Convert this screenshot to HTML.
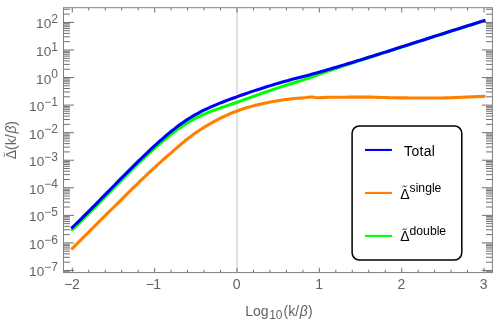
<!DOCTYPE html>
<html><head><meta charset="utf-8"><title>plot</title>
<style>html,body{margin:0;padding:0;background:#fff;}body{width:498px;height:324px;overflow:hidden;}svg{display:block;}text{font-family:"Liberation Sans",sans-serif;}svg{will-change:transform;}</style></head><body>
<svg width="498" height="324" viewBox="0 0 498 324">
<rect x="0" y="0" width="498" height="324" fill="#ffffff"/>
<line x1="237.00" y1="7.7" x2="237.00" y2="272.55" stroke="#cfcfcf" stroke-width="1.3"/>
<polyline points="72.4,229.67 75.4,226.79 78.4,223.87 81.4,220.92 84.4,217.95 87.4,214.95 90.4,211.94 93.4,208.90 96.4,205.86 99.4,202.80 102.4,199.73 105.4,196.66 108.4,193.58 111.4,190.51 114.4,187.43 117.4,184.37 120.4,181.31 123.4,178.27 126.4,175.24 129.4,172.23 132.4,169.24 135.4,166.27 138.4,163.33 141.4,160.45 144.4,157.64 147.4,154.86 150.4,152.10 153.4,149.38 156.4,146.70 159.4,144.07 162.4,141.50 165.4,138.98 168.4,136.53 171.4,134.13 174.4,131.81 177.4,129.57 180.4,127.43 183.4,125.40 186.4,123.47 189.4,121.65 192.4,119.95 195.4,118.34 198.4,116.83 201.4,115.41 204.4,114.09 207.4,112.83 210.4,111.63 213.4,110.49 216.4,109.40 219.4,108.35 222.4,107.31 225.4,106.29 228.4,105.27 231.4,104.25 234.4,103.23 237.4,102.19 240.4,101.15 243.4,100.07 246.4,98.98 249.4,97.90 252.4,96.81 255.4,95.73 258.4,94.65 261.4,93.57 264.4,92.49 267.4,91.44 270.4,90.41 273.4,89.38 276.4,88.37 279.4,87.37 282.4,86.39 285.4,85.43 288.4,84.49 291.4,83.56 294.4,82.65 297.4,81.75 300.4,80.85 303.4,79.86 306.4,78.88 309.4,77.91 312.4,76.85 315.4,75.69 318.4,74.60 321.4,73.53 324.4,72.47 327.4,71.40 330.4,70.33 333.4,69.24 336.4,68.21 339.4,67.24 342.4,66.26 345.4,65.29 348.4,64.32 351.4,63.35 354.4,62.37 357.4,61.40 360.4,60.43 363.4,59.46 366.4,58.49 369.4,57.52 372.4,56.54 375.4,55.57 378.4,54.59 381.4,53.62 384.4,52.64 387.4,51.67 390.4,50.70 393.4,49.73 396.4,48.75 399.4,47.78 402.4,46.81 405.4,45.84 408.4,44.87 411.4,43.89 414.4,42.92 417.4,41.95 420.4,40.98 423.4,40.01 426.4,39.04 429.4,38.08 432.4,37.11 435.4,36.14 438.4,35.18 441.4,34.21 444.4,33.25 447.4,32.29 450.4,31.33 453.4,30.38 456.4,29.42 459.4,28.47 462.4,27.52 465.4,26.57 468.4,25.62 471.4,24.68 474.4,23.73 477.4,22.80 480.4,21.86 483.4,20.93 483.9,20.77" fill="none" stroke="#00ff00" stroke-width="3.1" stroke-linejoin="round" stroke-linecap="square"/>
<polyline points="72.4,248.40 75.4,245.40 78.4,242.40 81.4,239.40 84.4,236.40 87.4,233.40 90.4,230.40 93.4,227.41 96.4,224.41 99.4,221.42 102.4,218.43 105.4,215.45 108.4,212.46 111.4,209.48 114.4,206.50 117.4,203.53 120.4,200.56 123.4,197.59 126.4,194.63 129.4,191.68 132.4,188.73 135.4,185.79 138.4,182.86 141.4,179.94 144.4,177.03 147.4,174.13 150.4,171.33 153.4,168.56 156.4,165.81 159.4,163.08 162.4,160.40 165.4,157.75 168.4,155.14 171.4,152.57 174.4,149.92 177.4,147.30 180.4,144.74 183.4,142.24 186.4,139.81 189.4,137.46 192.4,135.22 195.4,133.07 198.4,131.00 201.4,129.02 204.4,127.13 207.4,125.32 210.4,123.59 213.4,121.91 216.4,120.28 219.4,118.73 222.4,117.24 225.4,115.82 228.4,114.47 231.4,113.19 234.4,111.97 237.4,110.84 240.4,109.78 243.4,108.78 246.4,107.83 249.4,106.95 252.4,106.12 255.4,105.34 258.4,104.62 261.4,103.94 264.4,103.31 267.4,102.67 270.4,102.06 273.4,101.49 276.4,100.96 279.4,100.47 282.4,100.00 285.4,99.57 288.4,99.17 291.4,98.84 294.4,98.56 297.4,98.31 300.4,98.08 303.4,97.83 306.4,97.49 309.4,97.03 312.4,96.98 315.4,97.55 318.4,97.69 321.4,97.61 324.4,97.48 327.4,97.36 330.4,97.29 333.4,97.26 336.4,97.24 339.4,97.22 342.4,97.20 345.4,97.18 348.4,97.16 351.4,97.15 354.4,97.13 357.4,97.12 360.4,97.11 363.4,97.10 366.4,97.10 369.4,97.12 372.4,97.17 375.4,97.25 378.4,97.36 381.4,97.46 384.4,97.57 387.4,97.65 390.4,97.71 393.4,97.75 396.4,97.79 399.4,97.83 402.4,97.87 405.4,97.90 408.4,97.93 411.4,97.94 414.4,97.95 417.4,97.95 420.4,97.95 423.4,97.95 426.4,97.95 429.4,97.95 432.4,97.95 435.4,97.95 438.4,97.95 441.4,97.94 444.4,97.91 447.4,97.84 450.4,97.75 453.4,97.64 456.4,97.53 459.4,97.40 462.4,97.28 465.4,97.17 468.4,97.05 471.4,96.92 474.4,96.78 477.4,96.64 480.4,96.49 483.4,96.33 483.9,96.30" fill="none" stroke="#ff8000" stroke-width="3.1" stroke-linejoin="round" stroke-linecap="square"/>
<polyline points="72.4,227.40 75.4,224.49 78.4,221.56 81.4,218.60 84.4,215.63 87.4,212.63 90.4,209.62 93.4,206.59 96.4,203.55 99.4,200.51 102.4,197.45 105.4,194.39 108.4,191.33 111.4,188.27 114.4,185.22 117.4,182.17 120.4,179.13 123.4,176.10 126.4,173.08 129.4,170.08 132.4,167.09 135.4,164.13 138.4,161.19 141.4,158.28 144.4,155.39 147.4,152.53 150.4,149.71 153.4,146.92 156.4,144.18 159.4,141.47 162.4,138.82 165.4,136.22 168.4,133.69 171.4,131.23 174.4,128.84 177.4,126.53 180.4,124.30 183.4,122.17 186.4,120.14 189.4,118.22 192.4,116.39 195.4,114.66 198.4,113.02 201.4,111.46 204.4,109.97 207.4,108.55 210.4,107.19 213.4,105.89 216.4,104.63 219.4,103.41 222.4,102.22 225.4,101.05 228.4,99.91 231.4,98.78 234.4,97.68 237.4,96.59 240.4,95.51 243.4,94.46 246.4,93.42 249.4,92.39 252.4,91.38 255.4,90.39 258.4,89.41 261.4,88.44 264.4,87.48 267.4,86.54 270.4,85.62 273.4,84.70 276.4,83.81 279.4,82.93 282.4,82.07 285.4,81.22 288.4,80.39 291.4,79.59 294.4,78.80 297.4,78.03 300.4,77.26 303.4,76.49 306.4,75.71 309.4,74.91 312.4,74.10 315.4,73.27 318.4,72.43 321.4,71.58 324.4,70.72 327.4,69.85 330.4,68.98 333.4,68.09 336.4,67.20 339.4,66.30 342.4,65.39 345.4,64.48 348.4,63.57 351.4,62.65 354.4,61.73 357.4,60.81 360.4,59.88 363.4,58.95 366.4,58.02 369.4,57.09 372.4,56.15 375.4,55.20 378.4,54.26 381.4,53.32 384.4,52.37 387.4,51.42 390.4,50.46 393.4,49.51 396.4,48.56 399.4,47.60 402.4,46.64 405.4,45.68 408.4,44.72 411.4,43.76 414.4,42.80 417.4,41.84 420.4,40.88 423.4,39.92 426.4,38.96 429.4,38.00 432.4,37.03 435.4,36.07 438.4,35.11 441.4,34.16 444.4,33.20 447.4,32.24 450.4,31.29 453.4,30.33 456.4,29.38 459.4,28.43 462.4,27.48 465.4,26.53 468.4,25.59 471.4,24.65 474.4,23.71 477.4,22.77 480.4,21.84 483.4,20.91 483.9,20.75" fill="none" stroke="#0000ff" stroke-width="3.1" stroke-linejoin="round" stroke-linecap="square"/>
<path d="M63.50 270.47L74.00 270.47M492.40 270.47L481.90 270.47M63.50 242.91L74.00 242.91M492.40 242.91L481.90 242.91M63.50 215.35L74.00 215.35M492.40 215.35L481.90 215.35M63.50 187.79L74.00 187.79M492.40 187.79L481.90 187.79M63.50 160.23L74.00 160.23M492.40 160.23L481.90 160.23M63.50 132.67L74.00 132.67M492.40 132.67L481.90 132.67M63.50 105.11L74.00 105.11M492.40 105.11L481.90 105.11M63.50 77.55L74.00 77.55M492.40 77.55L481.90 77.55M63.50 49.99L74.00 49.99M492.40 49.99L481.90 49.99M63.50 22.43L74.00 22.43M492.40 22.43L481.90 22.43M63.50 271.73L69.90 271.73M492.40 271.73L486.00 271.73M63.50 262.17L69.90 262.17M492.40 262.17L486.00 262.17M63.50 257.32L69.90 257.32M492.40 257.32L486.00 257.32M63.50 253.88L69.90 253.88M492.40 253.88L486.00 253.88M63.50 251.21L69.90 251.21M492.40 251.21L486.00 251.21M63.50 249.02L69.90 249.02M492.40 249.02L486.00 249.02M63.50 247.18L69.90 247.18M492.40 247.18L486.00 247.18M63.50 245.58L69.90 245.58M492.40 245.58L486.00 245.58M63.50 244.17L69.90 244.17M492.40 244.17L486.00 244.17M63.50 234.61L69.90 234.61M492.40 234.61L486.00 234.61M63.50 229.76L69.90 229.76M492.40 229.76L486.00 229.76M63.50 226.32L69.90 226.32M492.40 226.32L486.00 226.32M63.50 223.65L69.90 223.65M492.40 223.65L486.00 223.65M63.50 221.46L69.90 221.46M492.40 221.46L486.00 221.46M63.50 219.62L69.90 219.62M492.40 219.62L486.00 219.62M63.50 218.02L69.90 218.02M492.40 218.02L486.00 218.02M63.50 216.61L69.90 216.61M492.40 216.61L486.00 216.61M63.50 207.05L69.90 207.05M492.40 207.05L486.00 207.05M63.50 202.20L69.90 202.20M492.40 202.20L486.00 202.20M63.50 198.76L69.90 198.76M492.40 198.76L486.00 198.76M63.50 196.09L69.90 196.09M492.40 196.09L486.00 196.09M63.50 193.90L69.90 193.90M492.40 193.90L486.00 193.90M63.50 192.06L69.90 192.06M492.40 192.06L486.00 192.06M63.50 190.46L69.90 190.46M492.40 190.46L486.00 190.46M63.50 189.05L69.90 189.05M492.40 189.05L486.00 189.05M63.50 179.49L69.90 179.49M492.40 179.49L486.00 179.49M63.50 174.64L69.90 174.64M492.40 174.64L486.00 174.64M63.50 171.20L69.90 171.20M492.40 171.20L486.00 171.20M63.50 168.53L69.90 168.53M492.40 168.53L486.00 168.53M63.50 166.34L69.90 166.34M492.40 166.34L486.00 166.34M63.50 164.50L69.90 164.50M492.40 164.50L486.00 164.50M63.50 162.90L69.90 162.90M492.40 162.90L486.00 162.90M63.50 161.49L69.90 161.49M492.40 161.49L486.00 161.49M63.50 151.93L69.90 151.93M492.40 151.93L486.00 151.93M63.50 147.08L69.90 147.08M492.40 147.08L486.00 147.08M63.50 143.64L69.90 143.64M492.40 143.64L486.00 143.64M63.50 140.97L69.90 140.97M492.40 140.97L486.00 140.97M63.50 138.78L69.90 138.78M492.40 138.78L486.00 138.78M63.50 136.94L69.90 136.94M492.40 136.94L486.00 136.94M63.50 135.34L69.90 135.34M492.40 135.34L486.00 135.34M63.50 133.93L69.90 133.93M492.40 133.93L486.00 133.93M63.50 124.37L69.90 124.37M492.40 124.37L486.00 124.37M63.50 119.52L69.90 119.52M492.40 119.52L486.00 119.52M63.50 116.08L69.90 116.08M492.40 116.08L486.00 116.08M63.50 113.41L69.90 113.41M492.40 113.41L486.00 113.41M63.50 111.22L69.90 111.22M492.40 111.22L486.00 111.22M63.50 109.38L69.90 109.38M492.40 109.38L486.00 109.38M63.50 107.78L69.90 107.78M492.40 107.78L486.00 107.78M63.50 106.37L69.90 106.37M492.40 106.37L486.00 106.37M63.50 96.81L69.90 96.81M492.40 96.81L486.00 96.81M63.50 91.96L69.90 91.96M492.40 91.96L486.00 91.96M63.50 88.52L69.90 88.52M492.40 88.52L486.00 88.52M63.50 85.85L69.90 85.85M492.40 85.85L486.00 85.85M63.50 83.66L69.90 83.66M492.40 83.66L486.00 83.66M63.50 81.82L69.90 81.82M492.40 81.82L486.00 81.82M63.50 80.22L69.90 80.22M492.40 80.22L486.00 80.22M63.50 78.81L69.90 78.81M492.40 78.81L486.00 78.81M63.50 69.25L69.90 69.25M492.40 69.25L486.00 69.25M63.50 64.40L69.90 64.40M492.40 64.40L486.00 64.40M63.50 60.96L69.90 60.96M492.40 60.96L486.00 60.96M63.50 58.29L69.90 58.29M492.40 58.29L486.00 58.29M63.50 56.10L69.90 56.10M492.40 56.10L486.00 56.10M63.50 54.26L69.90 54.26M492.40 54.26L486.00 54.26M63.50 52.66L69.90 52.66M492.40 52.66L486.00 52.66M63.50 51.25L69.90 51.25M492.40 51.25L486.00 51.25M63.50 41.69L69.90 41.69M492.40 41.69L486.00 41.69M63.50 36.84L69.90 36.84M492.40 36.84L486.00 36.84M63.50 33.40L69.90 33.40M492.40 33.40L486.00 33.40M63.50 30.73L69.90 30.73M492.40 30.73L486.00 30.73M63.50 28.54L69.90 28.54M492.40 28.54L486.00 28.54M63.50 26.70L69.90 26.70M492.40 26.70L486.00 26.70M63.50 25.10L69.90 25.10M492.40 25.10L486.00 25.10M63.50 23.69L69.90 23.69M492.40 23.69L486.00 23.69M63.50 14.13L69.90 14.13M492.40 14.13L486.00 14.13M63.50 9.28L69.90 9.28M492.40 9.28L486.00 9.28M72.30 272.55L72.30 267.75M72.30 7.70L72.30 12.50M88.77 272.55L88.77 269.75M88.77 7.70L88.77 10.50M105.24 272.55L105.24 269.75M105.24 7.70L105.24 10.50M121.71 272.55L121.71 269.75M121.71 7.70L121.71 10.50M138.18 272.55L138.18 269.75M138.18 7.70L138.18 10.50M154.65 272.55L154.65 267.75M154.65 7.70L154.65 12.50M171.12 272.55L171.12 269.75M171.12 7.70L171.12 10.50M187.59 272.55L187.59 269.75M187.59 7.70L187.59 10.50M204.06 272.55L204.06 269.75M204.06 7.70L204.06 10.50M220.53 272.55L220.53 269.75M220.53 7.70L220.53 10.50M237.00 272.55L237.00 267.75M237.00 7.70L237.00 12.50M253.47 272.55L253.47 269.75M253.47 7.70L253.47 10.50M269.94 272.55L269.94 269.75M269.94 7.70L269.94 10.50M286.41 272.55L286.41 269.75M286.41 7.70L286.41 10.50M302.88 272.55L302.88 269.75M302.88 7.70L302.88 10.50M319.35 272.55L319.35 267.75M319.35 7.70L319.35 12.50M335.82 272.55L335.82 269.75M335.82 7.70L335.82 10.50M352.29 272.55L352.29 269.75M352.29 7.70L352.29 10.50M368.76 272.55L368.76 269.75M368.76 7.70L368.76 10.50M385.23 272.55L385.23 269.75M385.23 7.70L385.23 10.50M401.70 272.55L401.70 267.75M401.70 7.70L401.70 12.50M418.17 272.55L418.17 269.75M418.17 7.70L418.17 10.50M434.64 272.55L434.64 269.75M434.64 7.70L434.64 10.50M451.11 272.55L451.11 269.75M451.11 7.70L451.11 10.50M467.58 272.55L467.58 269.75M467.58 7.70L467.58 10.50M484.05 272.55L484.05 267.75M484.05 7.70L484.05 12.50" stroke="#707070" stroke-width="1" fill="none"/>
<rect x="63.5" y="7.7" width="428.90" height="264.85" fill="none" stroke="#808080" stroke-width="1"/>
<text x="57.9" y="276.47" text-anchor="end" font-size="13.6" fill="#636363">10<tspan font-size="12" dy="-5.4">−7</tspan></text>
<text x="57.9" y="248.91" text-anchor="end" font-size="13.6" fill="#636363">10<tspan font-size="12" dy="-5.4">−6</tspan></text>
<text x="57.9" y="221.35" text-anchor="end" font-size="13.6" fill="#636363">10<tspan font-size="12" dy="-5.4">−5</tspan></text>
<text x="57.9" y="193.79" text-anchor="end" font-size="13.6" fill="#636363">10<tspan font-size="12" dy="-5.4">−4</tspan></text>
<text x="57.9" y="166.23" text-anchor="end" font-size="13.6" fill="#636363">10<tspan font-size="12" dy="-5.4">−3</tspan></text>
<text x="57.9" y="138.67" text-anchor="end" font-size="13.6" fill="#636363">10<tspan font-size="12" dy="-5.4">−2</tspan></text>
<text x="57.9" y="111.11" text-anchor="end" font-size="13.6" fill="#636363">10<tspan font-size="12" dy="-5.4">−1</tspan></text>
<text x="57.9" y="83.55" text-anchor="end" font-size="13.6" fill="#636363">10<tspan font-size="12" dy="-5.4">0</tspan></text>
<text x="57.9" y="55.99" text-anchor="end" font-size="13.6" fill="#636363">10<tspan font-size="12" dy="-5.4">1</tspan></text>
<text x="57.9" y="28.43" text-anchor="end" font-size="13.6" fill="#636363">10<tspan font-size="12" dy="-5.4">2</tspan></text>
<text x="71.70" y="289.1" text-anchor="middle" font-size="14" letter-spacing="-0.6" fill="#636363">−2</text>
<text x="153.15" y="289.1" text-anchor="middle" font-size="14" letter-spacing="-0.6" fill="#636363">−1</text>
<text x="236.70" y="289.1" text-anchor="middle" font-size="14" fill="#636363">0</text>
<text x="319.05" y="289.1" text-anchor="middle" font-size="14" fill="#636363">1</text>
<text x="401.40" y="289.1" text-anchor="middle" font-size="14" fill="#636363">2</text>
<text x="483.75" y="289.1" text-anchor="middle" font-size="14" fill="#636363">3</text>
<text x="245.3" y="315.7" font-size="14" fill="#636363">Log<tspan font-size="12" dy="3.2" dx="0.5">10</tspan><tspan dy="-3.2" dx="1.0">(k/</tspan><tspan font-style="italic" dx="0.6">β</tspan><tspan dx="0.2">)</tspan></text>
<g transform="translate(15.6,159.3) rotate(-90)"><text x="0" y="0" font-size="14" fill="#636363">Δ(k/<tspan font-style="italic" dx="0.9">β</tspan><tspan dx="-0.2">)</tspan></text><path d="M2.3 -10.8 c0.8 -1.0 1.6 -0.9 2.2 -0.4 c0.6 0.5 1.4 0.5 2.1 -0.7" fill="none" stroke="#636363" stroke-width="0.95"/></g>
<rect x="352.1" y="126.0" width="109.7" height="134" rx="7.3" ry="7.3" fill="#ffffff" stroke="#000000" stroke-width="1.5"/>
<line x1="365.0" y1="149.95" x2="391.9" y2="149.95" stroke="#0000ff" stroke-width="2.1"/>
<line x1="365.0" y1="192.95" x2="391.9" y2="192.95" stroke="#ff8000" stroke-width="2.1"/>
<line x1="365.0" y1="235.9" x2="391.9" y2="235.9" stroke="#00ff00" stroke-width="2.1"/>
<text x="404.1" y="155.7" font-size="14" letter-spacing="0.3" fill="#000">Total</text>
<text x="400.2" y="198.5" font-size="14" fill="#000">Δ<tspan font-size="12.2" dy="-6.9" dx="0">single</tspan></text>
<path d="M402.5 186.80 c0.8 -1.0 1.6 -0.9 2.2 -0.4 c0.6 0.5 1.4 0.5 2.1 -0.7" fill="none" stroke="#000" stroke-width="0.95"/>
<text x="400.2" y="241.4" font-size="14" fill="#000">Δ<tspan font-size="12.2" dy="-6.9" dx="0">double</tspan></text>
<path d="M402.5 229.70 c0.8 -1.0 1.6 -0.9 2.2 -0.4 c0.6 0.5 1.4 0.5 2.1 -0.7" fill="none" stroke="#000" stroke-width="0.95"/>
</svg></body></html>
